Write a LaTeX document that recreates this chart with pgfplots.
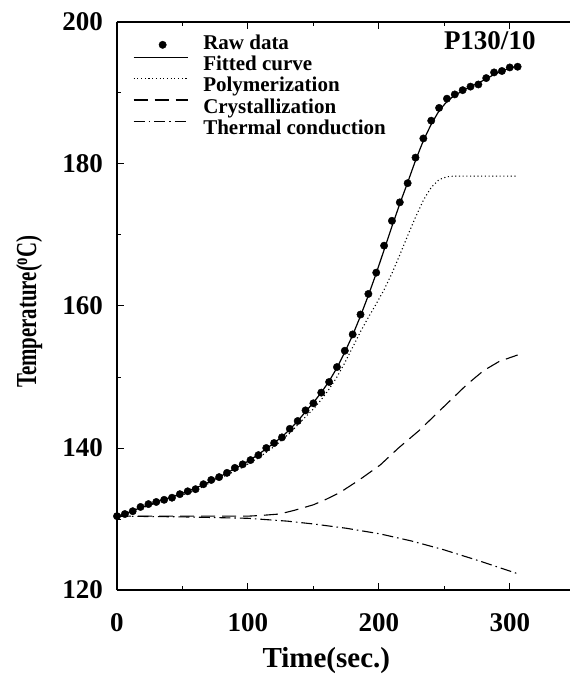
\documentclass[border=0pt]{standalone}
\usepackage{graphicx}
\usepackage{pgfplots}
\pgfplotsset{compat=1.18}
\usepackage{pgfplotstable}
\usepackage{fontspec}
\setmainfont{Liberation Serif}

\pgfplotstableread{
t T
0 130.4
6 130.7
12 131.1
18 131.7
24 132.1
30 132.4
36 132.7
42 133.0
48 133.5
54 133.9
60 134.2
66 134.9
72 135.5
78 135.9
84 136.5
90 137.2
96 137.7
102 138.3
108 139.0
114 140.0
120 140.7
126 141.5
132 142.7
138 143.8
144 145.3
150 146.3
156 147.8
162 149.3
168 151.4
174 153.7
180 156.0
186 158.8
192 161.7
198 164.7
204 168.5
210 172.0
216 174.6
222 177.3
228 180.9
234 183.6
240 186.1
246 187.9
252 189.2
258 189.8
264 190.4
270 190.9
276 191.2
282 192.1
288 192.9
294 193.1
300 193.6
306 193.7
}\rawdata

\pgfplotstableread{
t T
0 130.4
6 130.75
12 131.15
18 131.6
24 132.0
30 132.4
36 132.75
42 133.1
48 133.5
54 133.9
60 134.35
66 134.85
72 135.35
78 135.9
84 136.5
90 137.1
96 137.7
102 138.35
108 139.1
114 139.9
120 140.7
126 141.6
132 142.6
138 143.8
144 145.1
150 146.4
156 147.8
162 149.4
168 151.3
174 153.5
180 155.9
186 158.6
192 161.5
198 164.6
204 167.9
210 171.2
216 174.4
222 177.4
228 180.5
234 183.3
240 185.6
246 187.5
252 188.8
258 189.7
264 190.3
270 190.9
276 191.4
282 192.0
288 192.6
294 193.1
300 193.5
306 193.8
}\fitted

\pgfplotstableread{
t T
0 130.4
12 131.0
24 131.9
36 132.6
48 133.3
60 134.0
72 135.2
84 136.2
96 137.3
108 138.6
120 140.2
132 142.1
144 144.4
150 145.5
156 146.8
162 148.3
168 150.0
174 152.0
180 154.2
186 156.4
192 158.4
198 160.3
204 162.3
210 164.6
216 167.2
222 169.9
228 172.5
234 174.9
240 176.7
246 177.8
252 178.2
258 178.3
306 178.3
}\polym

\pgfplotstableread{
t T
0 130.4
50 130.4
100 130.4
110 130.5
124 130.7
135 131.2
150 132.0
160 132.8
170 133.7
185 135.5
201 137.6
215 140.0
231 142.5
245 145.0
258 147.3
267 148.9
280 150.9
292 152.2
306 153.1
}\cryst

\pgfplotstableread{
t T
0 130.4
50 130.3
100 130.1
130 129.7
150 129.3
175 128.7
201 127.9
225 126.9
249 125.7
275 124.2
306 122.3
}\thermal

\begin{document}
\begin{tikzpicture}
\begin{axis}[
  at={(0pt,0pt)}, anchor=south west,
  scale only axis, width=453pt, height=568pt,
  xmin=0, xmax=346, ymin=120, ymax=200,
  axis x line*=box, axis y line*=left,
  axis line style={line width=1.2pt},
  xtick={0,100,200,300}, minor xtick={50,150,250},
  ytick={120,140,160,180,200}, minor ytick={130,150,170,190},
  tick align=inside, major tick length=7pt, minor tick length=4pt,
  every tick/.style={black, line width=1pt},
  /pgf/number format/assume math mode=true,
  ticklabel style={font=\fontsize{27}{27}\selectfont\bfseries, inner sep=0pt},
  xticklabel style={yshift=-23pt},
  yticklabel style={xshift=-14pt},
  xlabel={Time(sec.)},
  ylabel={\scalebox{0.72}[1]{Temperature(\textsuperscript{o}C)}},
  label style={font=\fontsize{29}{29}\selectfont\bfseries},
  xlabel style={at={(axis description cs:0.462,-0.1373)}, anchor=base},
  ylabel style={at={(axis description cs:-0.194,0.49)}, anchor=center},
  legend style={at={(axis description cs:0.035,0.979)}, anchor=north west,
    draw=none, fill=none, inner sep=0pt, row sep=0pt, column sep=15pt,
    font=\fontsize{21}{21}\selectfont\bfseries,
    nodes={inner sep=0pt, text height=15pt, text depth=6.4pt}},
  legend cell align=left,
  legend image code/.code={\draw[mark repeat=2,mark phase=2,yshift=9pt,#1] plot coordinates {(0pt,0pt) (29pt,0pt) (54pt,0pt)};},
]
\addplot[only marks, mark=*, mark size=3.7pt, black,
  legend image post style={yshift=-9pt}] table[x=t,y=T]{\rawdata};
\addlegendentry{Raw data}
\addplot[black, line width=1.2pt, no marks] table[x=t,y=T]{\fitted};
\addlegendentry{Fitted curve}
\addplot[black, line width=1.1pt, no marks, dash pattern=on 1.1pt off 2.6pt] table[x=t,y=T]{\polym};
\addlegendentry{Polymerization}
\addplot[black, line width=1.1pt, no marks, dash pattern=on 14pt off 7pt] table[x=t,y=T]{\cryst};
\addlegendentry{Crystallization}
\addplot[black, line width=1.1pt, no marks, dash pattern=on 11pt off 4pt on 1.5pt off 4pt] table[x=t,y=T]{\thermal};
\addlegendentry{Thermal conduction}
\node[anchor=base, font=\fontsize{27}{27}\selectfont\bfseries] at (axis cs:284.7,196.06) {P130/10};
\end{axis}
\pgfresetboundingbox
\path (-117pt,-84pt) rectangle (453pt,590pt);
\end{tikzpicture}
\end{document}
